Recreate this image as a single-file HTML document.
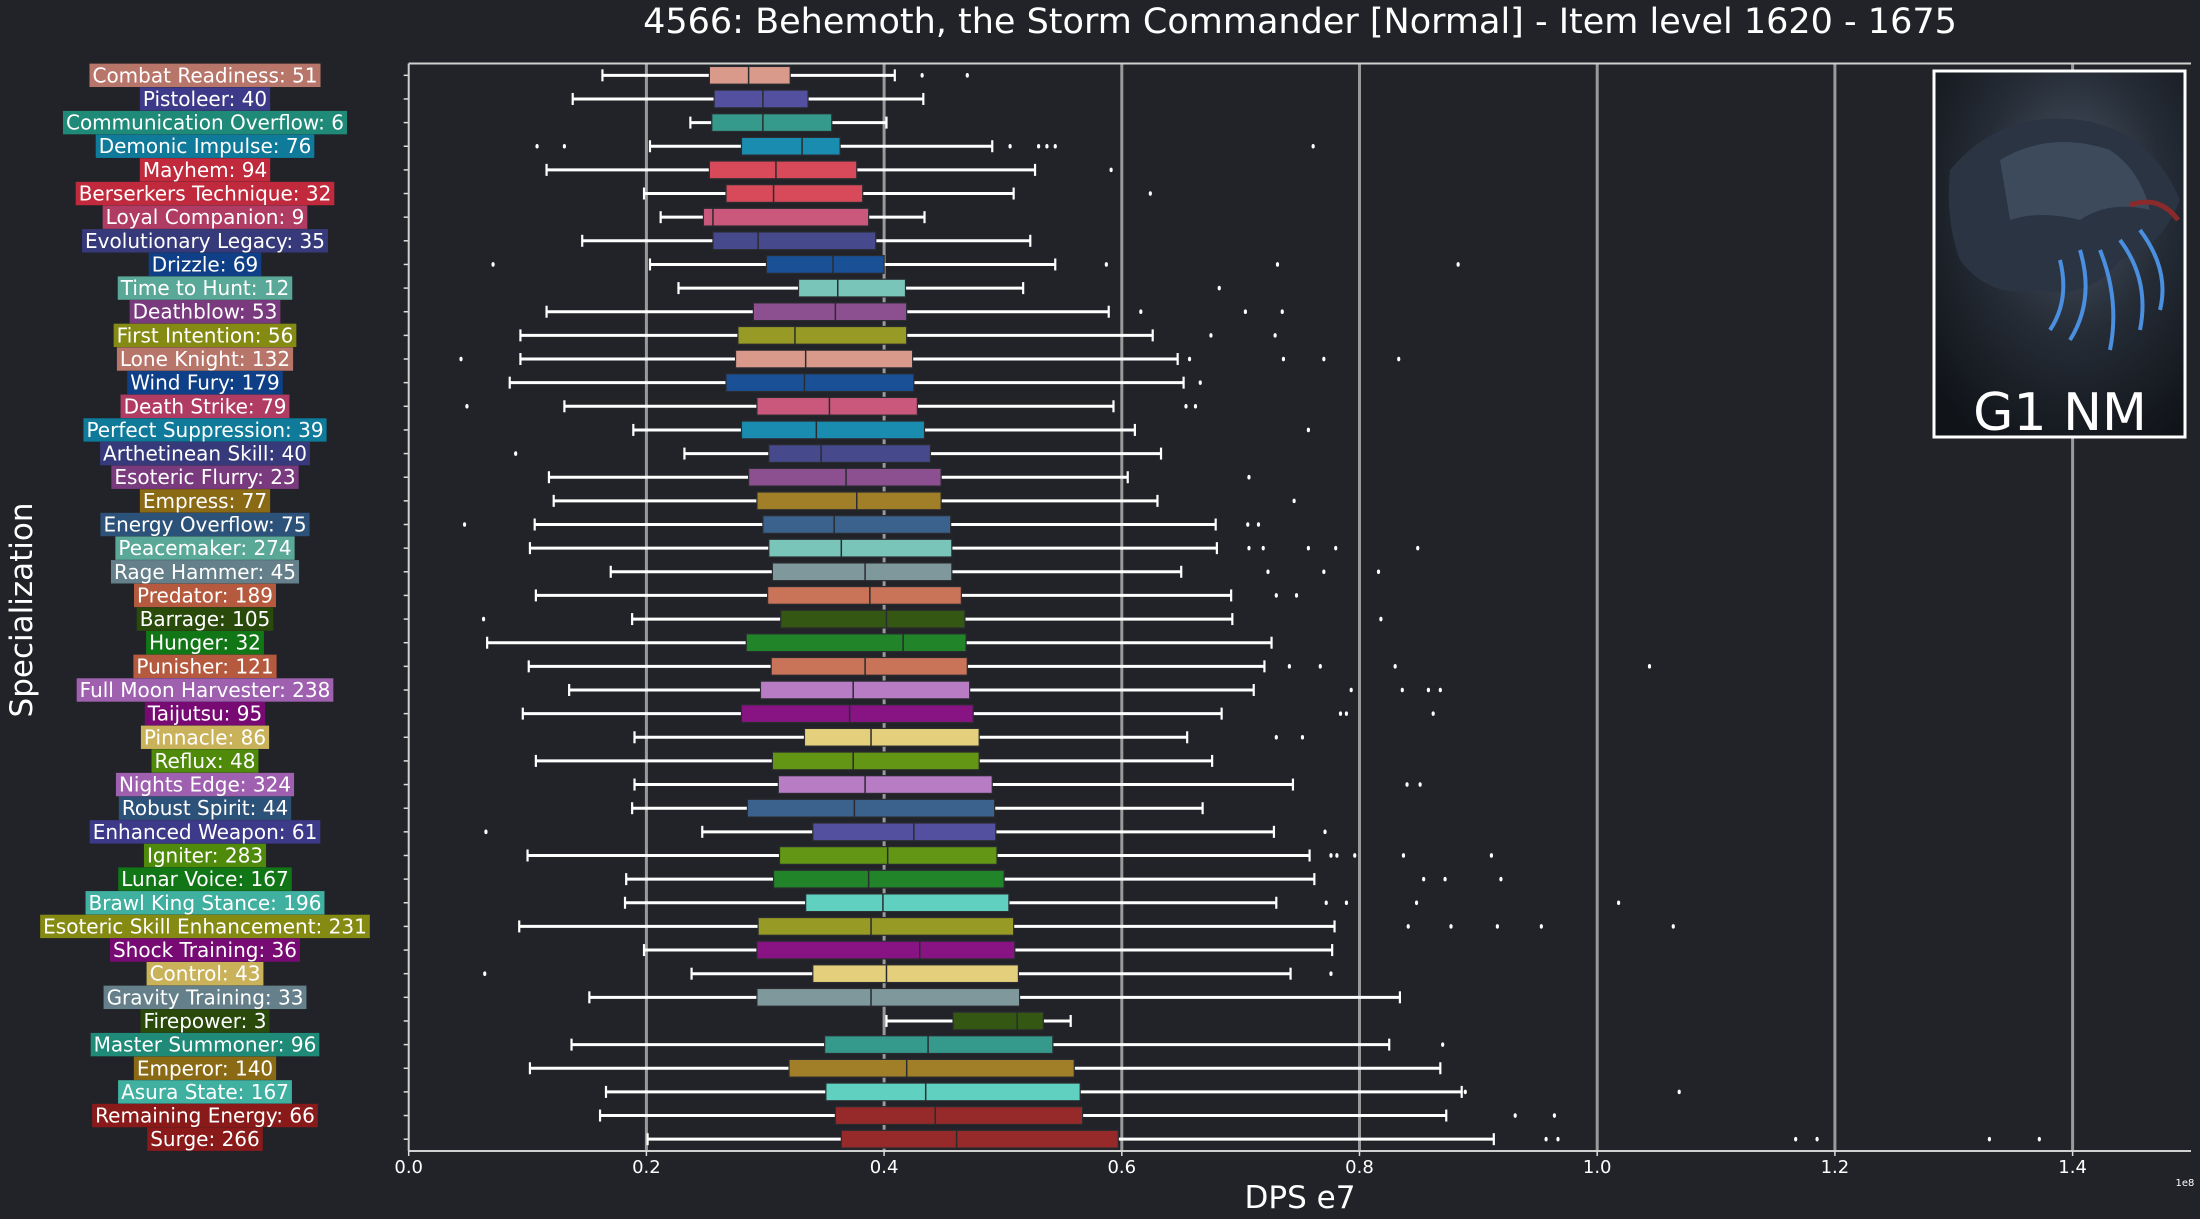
<!DOCTYPE html>
<html><head><meta charset="utf-8"><style>
html,body{margin:0;padding:0;background:#212328;}
svg{display:block;font-family:"DejaVu Sans","Liberation Sans",sans-serif;}
</style></head><body>
<svg id="chart" width="2200" height="1219" viewBox="0 0 2200 1219" xmlns="http://www.w3.org/2000/svg">
<rect x="0" y="0" width="2200" height="1219" fill="#212328"/>
<text x="1300" y="33" fill="#ffffff" font-size="35" text-anchor="middle">4566: Behemoth, the Storm Commander [Normal] - Item level 1620 - 1675</text>
<g id="grid"></g>
<g id="boxes"></g>
<g id="labels"></g>
<g id="axes"></g>
<text x="1300" y="1208" fill="#ffffff" font-size="31" text-anchor="middle">DPS e7</text>
<text x="2185" y="1186" fill="#ffffff" font-size="10" text-anchor="middle">1e8</text>
<text transform="translate(32,610) rotate(-90)" fill="#ffffff" font-size="31" text-anchor="middle">Specialization</text>
<g>
<defs>
<radialGradient id="bg1" cx="0.55" cy="0.35" r="0.75"><stop offset="0" stop-color="#4a5666"/><stop offset="0.5" stop-color="#252c36"/><stop offset="1" stop-color="#101318"/></radialGradient>
</defs>
<rect x="1934" y="71" width="251" height="366" fill="url(#bg1)" stroke="#ffffff" stroke-width="3"/>
<path d="M1950 170 Q2000 110 2080 120 Q2150 130 2180 200 Q2160 250 2120 260 Q2090 300 2040 290 Q1990 300 1960 260 Q1945 220 1950 170Z" fill="#2a3442"/>
<path d="M2000 160 Q2050 130 2110 150 Q2140 170 2150 210 Q2110 200 2080 220 Q2040 210 2010 220Z" fill="#3c4a5c"/>
<path d="M2080 250 Q2095 300 2070 340 M2100 250 Q2120 300 2110 350 M2120 240 Q2150 280 2140 330 M2060 260 Q2070 300 2050 330 M2140 230 Q2170 270 2160 310" stroke="#4a8fe0" stroke-width="4" fill="none"/>
<path d="M2130 205 Q2160 195 2178 220" stroke="#8a2a2a" stroke-width="5" fill="none"/>
<text x="2060" y="430" fill="#ffffff" font-size="52" text-anchor="middle">G1 NM</text>
</g>
</svg>
<script>
const specs = ["Combat Readiness: 51","Pistoleer: 40","Communication Overflow: 6","Demonic Impulse: 76","Mayhem: 94","Berserkers Technique: 32","Loyal Companion: 9","Evolutionary Legacy: 35","Drizzle: 69","Time to Hunt: 12","Deathblow: 53","First Intention: 56","Lone Knight: 132","Wind Fury: 179","Death Strike: 79","Perfect Suppression: 39","Arthetinean Skill: 40","Esoteric Flurry: 23","Empress: 77","Energy Overflow: 75","Peacemaker: 274","Rage Hammer: 45","Predator: 189","Barrage: 105","Hunger: 32","Punisher: 121","Full Moon Harvester: 238","Taijutsu: 95","Pinnacle: 86","Reflux: 48","Nights Edge: 324","Robust Spirit: 44","Enhanced Weapon: 61","Igniter: 283","Lunar Voice: 167","Brawl King Stance: 196","Esoteric Skill Enhancement: 231","Shock Training: 36","Control: 43","Gravity Training: 33","Firepower: 3","Master Summoner: 96","Emperor: 140","Asura State: 167","Remaining Energy: 66","Surge: 266"];
const whiskerLow = [0.163,0.138,0.237,0.203,0.116,0.198,0.212,0.146,0.203,0.227,0.116,0.094,0.094,0.085,0.131,0.189,0.232,0.118,0.122,0.106,0.102,0.170,0.107,0.188,0.066,0.101,0.135,0.096,0.190,0.107,0.190,0.188,0.247,0.100,0.183,0.182,0.093,0.198,0.238,0.152,0.402,0.137,0.102,0.166,0.161,0.201];
const q1 = [0.253,0.257,0.255,0.280,0.253,0.267,0.248,0.256,0.301,0.328,0.290,0.277,0.275,0.267,0.293,0.280,0.303,0.286,0.293,0.298,0.303,0.306,0.302,0.313,0.284,0.305,0.296,0.280,0.333,0.306,0.311,0.285,0.340,0.312,0.307,0.334,0.294,0.293,0.340,0.293,0.458,0.350,0.320,0.351,0.359,0.364];
const medians = [0.286,0.298,0.298,0.331,0.309,0.307,0.256,0.294,0.357,0.361,0.359,0.325,0.334,0.333,0.354,0.343,0.347,0.368,0.377,0.358,0.364,0.384,0.388,0.402,0.416,0.384,0.374,0.371,0.389,0.374,0.384,0.375,0.425,0.403,0.387,0.399,0.389,0.430,0.402,0.389,0.512,0.437,0.419,0.435,0.443,0.461];
const q3 = [0.321,0.336,0.356,0.363,0.377,0.382,0.387,0.393,0.400,0.418,0.419,0.419,0.424,0.425,0.428,0.434,0.439,0.448,0.448,0.456,0.457,0.457,0.465,0.468,0.469,0.470,0.472,0.475,0.480,0.480,0.491,0.493,0.494,0.495,0.501,0.505,0.509,0.510,0.513,0.514,0.534,0.542,0.560,0.565,0.567,0.597];
const whiskerHigh = [0.409,0.433,0.402,0.491,0.527,0.509,0.434,0.523,0.544,0.517,0.589,0.626,0.647,0.652,0.593,0.611,0.633,0.605,0.630,0.679,0.680,0.650,0.692,0.693,0.726,0.720,0.711,0.684,0.655,0.676,0.744,0.668,0.728,0.758,0.762,0.730,0.779,0.777,0.742,0.834,0.557,0.825,0.868,0.886,0.873,0.913];
const outliers = [[0.432,0.470],[],[],[0.108,0.131,0.506,0.530,0.537,0.544,0.761],[0.591],[0.624],[],[],[0.071,0.587,0.731,0.883],[0.682],[0.616,0.704,0.735],[0.675,0.729],[0.044,0.657,0.736,0.770,0.833],[0.666],[0.049,0.654,0.662],[0.757],[0.090],[0.707],[0.745],[0.047,0.706,0.715],[0.707,0.719,0.757,0.780,0.849],[0.723,0.770,0.816],[0.730,0.747],[0.063,0.818],[],[0.741,0.767,0.830,1.044],[0.793,0.836,0.858,0.868],[0.784,0.789,0.862],[0.730,0.752],[],[0.840,0.851],[],[0.065,0.771],[0.776,0.781,0.796,0.837,0.911],[0.854,0.872,0.919],[0.772,0.789,0.848,1.018],[0.841,0.877,0.916,0.953,1.064],[],[0.064,0.776],[],[],[0.870],[],[0.889,1.069],[0.931,0.964],[0.957,0.967,1.167,1.185,1.330,1.372]];
const boxColors = ["#d99a8c","#5450a0","#359a8c","#1a8cb0","#d84a5a","#d84a5a","#c9587c","#464a8c","#1a5096","#79c5b9","#8c4f8f","#979a24","#d99a8c","#1a5096","#c9587c","#1a8cb0","#464a8c","#8c4f8f","#a07f28","#3b628c","#79c5b9","#7f989c","#c97358","#345814","#228428","#c97358","#b87cc4","#881484","#e4d07c","#629614","#b87cc4","#3b628c","#5450a0","#629614","#228428","#60d0c0","#979a24","#881484","#e4d07c","#7f989c","#345814","#359a8c","#a07f28","#60d0c0","#962a2a","#962a2a"];
const labelColors = ["#b8766b","#3e3a8a","#1f8a78","#0f7a9a","#c02a3c","#c02a3c","#b03c64","#363a7a","#0f3f86","#5aa898","#7a3a7e","#858a12","#b8766b","#0f3f86","#b03c64","#0f7a9a","#363a7a","#7a3a7e","#8a6a14","#2d527a","#5aa898","#65808a","#b55a3e","#2a4a0c","#117716","#b55a3e","#a060b0","#780a74","#c9b25a","#4f8a0a","#a060b0","#2d527a","#3e3a8a","#4f8a0a","#117716","#40b0a0","#858a12","#780a74","#c9b25a","#65808a","#2a4a0c","#1f8a78","#8a6a14","#40b0a0","#8a1a1a","#8a1a1a"];
const xTicks = [0,0.2,0.4,0.6,0.8,1.0,1.2,1.4];
const xTickLabels = ["0.0","0.2","0.4","0.6","0.8","1.0","1.2","1.4"];
const gridTicks = [0.2,0.4,0.6,0.8,1.0,1.2,1.4];

const NS="http://www.w3.org/2000/svg";
const L=408.7, R=2191, T=63.5, B=1151;
const xScale=v=>L+v*1188.5;
const rowH=(B-T)/specs.length;
const yScale=i=>T+rowH*(i+0.5);
function mk(tag,parent,attrs){const e=document.createElementNS(NS,tag);for(const k in attrs)e.setAttribute(k,attrs[k]);parent.appendChild(e);return e;}
const grid=document.getElementById('grid'),boxes=document.getElementById('boxes'),labels=document.getElementById('labels'),axes=document.getElementById('axes');
gridTicks.forEach(t=>{const e=mk('line',grid,{x1:xScale(t),x2:xScale(t),y1:T,y2:B,stroke:'#9a9a9a','stroke-width':3});

});
const bh=rowH*0.75, capH=12;
specs.forEach((s,i)=>{
 const y=yScale(i);
 const g=mk('g',boxes,{});
 
 
 const w1=mk('line',g,{x1:xScale(whiskerLow[i]),x2:xScale(q1[i]),y1:y,y2:y,stroke:'#fff','stroke-width':3});
 
 
 const w2=mk('line',g,{x1:xScale(q3[i]),x2:xScale(whiskerHigh[i]),y1:y,y2:y,stroke:'#fff','stroke-width':3});
 
 
 [whiskerLow[i],whiskerHigh[i]].forEach(v=>{const c=mk('line',g,{x1:xScale(v),x2:xScale(v),y1:y-capH/2,y2:y+capH/2,stroke:'#fff','stroke-width':2.2});
 
 });
 const r=mk('rect',g,{x:xScale(q1[i]),y:y-bh/2,width:xScale(q3[i])-xScale(q1[i]),height:bh,fill:boxColors[i],stroke:'#2a2c30','stroke-width':1.2});
 
 
 const m=mk('line',g,{x1:xScale(medians[i]),x2:xScale(medians[i]),y1:y-bh/2,y2:y+bh/2,stroke:'#2a2c30','stroke-width':1.5});
 
 
 outliers[i].forEach(v=>{const o=mk('ellipse',g,{cx:xScale(v),cy:y,rx:1.6,ry:2.3,fill:'#fff'});
 
 });
 const tk=mk('line',axes,{x1:L-5,x2:L,y1:y,y2:y,stroke:'#ddd','stroke-width':1.5});
 
 
 const lg=mk('g',labels,{});
 
 
 const bg=mk('rect',lg,{fill:labelColors[i]});
 const t=mk('text',lg,{x:205,y:y+7,'font-size':20,fill:'#fff','text-anchor':'middle'});
 t.textContent=s;
 const w=t.getComputedTextLength();
 bg.setAttribute('x',205-w/2-3);bg.setAttribute('y',y-11.7);bg.setAttribute('width',w+6);bg.setAttribute('height',23.4);
});
mk('line',axes,{x1:L,x2:L,y1:T,y2:B,stroke:'#d0d0d0','stroke-width':2});
mk('line',axes,{x1:L,x2:R,y1:T,y2:T,stroke:'#d0d0d0','stroke-width':2});
mk('line',axes,{x1:L,x2:R,y1:B,y2:B,stroke:'#d0d0d0','stroke-width':2});
xTicks.forEach((t,k)=>{
 const tk=mk('line',axes,{x1:xScale(t),x2:xScale(t),y1:B,y2:B+5,stroke:'#ddd','stroke-width':1.5});
 
 
 const tl=mk('text',axes,{x:xScale(t),y:B+22,'font-size':18,fill:'#fff','text-anchor':'middle'});
 
 
 tl.textContent=xTickLabels[k];
});
</script>
</body></html>
